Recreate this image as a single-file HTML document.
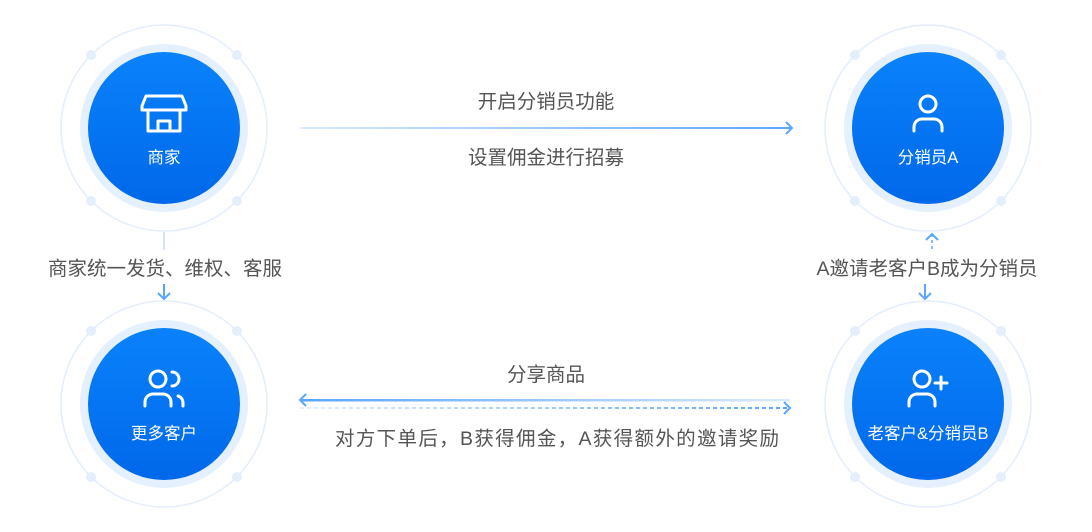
<!DOCTYPE html>
<html><head><meta charset="utf-8"><style>
html,body{margin:0;padding:0;background:#fff;width:1092px;height:532px;overflow:hidden}
text{font-family:"Liberation Sans","Noto Sans CJK SC",sans-serif}
</style></head><body>
<svg width="1092" height="532" viewBox="0 0 1092 532" xmlns="http://www.w3.org/2000/svg">
<defs>
<linearGradient id="bg" x1="0" y1="0" x2="0" y2="1"><stop offset="0" stop-color="#0a82fb"/><stop offset="1" stop-color="#0068ea"/></linearGradient>
<linearGradient id="ga" gradientUnits="userSpaceOnUse" x1="300" y1="0" x2="792" y2="0"><stop offset="0" stop-color="#dbeafe"/><stop offset="1" stop-color="#5aa6ff"/></linearGradient>
<linearGradient id="gb" gradientUnits="userSpaceOnUse" x1="300" y1="0" x2="790" y2="0"><stop offset="0" stop-color="#5aa6ff"/><stop offset="1" stop-color="#dbeafe"/></linearGradient>
<linearGradient id="gc" gradientUnits="userSpaceOnUse" x1="300" y1="0" x2="790" y2="0"><stop offset="0" stop-color="#e6f0ff"/><stop offset="1" stop-color="#5aa6ff"/></linearGradient>
<g id="node">
<circle r="103" fill="none" stroke="#e4eefc" stroke-width="1.5"/>
<circle r="84" fill="#e5f0fe"/>
<circle r="76" fill="url(#bg)"/>
<circle cx="-73" cy="-73" r="5" fill="#e4eefc"/><circle cx="73" cy="-73" r="5" fill="#e4eefc"/>
<circle cx="-73" cy="73" r="5" fill="#e4eefc"/><circle cx="73" cy="73" r="5" fill="#e4eefc"/>
</g>
</defs>
<use href="#node" x="164" y="128"/>
<use href="#node" x="928" y="128"/>
<use href="#node" x="164" y="404"/>
<use href="#node" x="928" y="404"/>
<g fill="none" stroke="#fff" stroke-width="3" stroke-linecap="round" stroke-linejoin="round">
<path d="M146 96 h36 l4 10 v4 h-44 v-4 z"/><path d="M148 111 v20 h32 v-20"/><path d="M158 131 v-10 h12 v10"/>
<circle cx="928" cy="104" r="8"/><path d="M914 131 v-4 a8 8 0 0 1 8 -8 h12 a8 8 0 0 1 8 8 v4"/>
<circle cx="158" cy="379" r="8"/><path d="M145 406 v-4 a8 8 0 0 1 8 -8 h10 a8 8 0 0 1 8 8 v4"/><path d="M172 372 a7 7 0 0 1 0 14 M178 396 a7 7 0 0 1 5 7 v3"/>
<circle cx="922" cy="379" r="8"/><path d="M909 406 v-4 a8 8 0 0 1 8 -8 h10 a8 8 0 0 1 8 8 v4"/><path d="M941 377 v12 M935 383 h12"/>
</g>
<g fill="#fff" font-size="16.5" text-anchor="middle">
<text x="164" y="163">商家</text>
<text x="928" y="163">分销员A</text>
<text x="164" y="439">更多客户</text>
<text x="928" y="439">老客户&amp;分销员B</text>
</g>
<rect x="300" y="127" width="492" height="2" fill="url(#ga)"/>
<path d="M786 122 l6 6 l-6 6" fill="none" stroke="#5aa6ff" stroke-width="2"/>
<rect x="300" y="399" width="490" height="2.5" fill="url(#gb)"/>
<path d="M306 394 l-6 6 l6 6" fill="none" stroke="#5aa6ff" stroke-width="2"/>
<line x1="300" y1="408" x2="790" y2="408" stroke="url(#gc)" stroke-width="2" stroke-dasharray="4 3"/>
<path d="M784 402 l6 6 l-6 6" fill="none" stroke="#5aa6ff" stroke-width="2"/>
<line x1="164" y1="232" x2="164" y2="250" stroke="#cfe3fd" stroke-width="2"/>
<line x1="164" y1="284" x2="164" y2="299" stroke="#5aa6ff" stroke-width="2"/>
<path d="M158 293 l6 6 l6 -6" fill="none" stroke="#5aa6ff" stroke-width="2"/>
<line x1="932" y1="234" x2="932" y2="250" stroke="#7fb8ff" stroke-width="2" stroke-dasharray="3 3"/>
<path d="M926 240 l6 -6 l6 6" fill="none" stroke="#5aa6ff" stroke-width="2"/>
<line x1="925" y1="284" x2="925" y2="299" stroke="#5aa6ff" stroke-width="2"/>
<path d="M919 293 l6 6 l6 -6" fill="none" stroke="#5aa6ff" stroke-width="2"/>
<g fill="#555" font-size="19.5" text-anchor="middle">
<text x="546" y="108">开启分销员功能</text>
<text x="546" y="164">设置佣金进行招募</text>
<text x="165" y="275">商家统一发货、维权、客服</text>
<text x="927" y="275">A邀请老客户B成为分销员</text>
<text x="546" y="381">分享商品</text>
<text x="557" y="445" textLength="444" lengthAdjust="spacing">对方下单后，B获得佣金，A获得额外的邀请奖励</text>
</g>
</svg>
</body></html>
